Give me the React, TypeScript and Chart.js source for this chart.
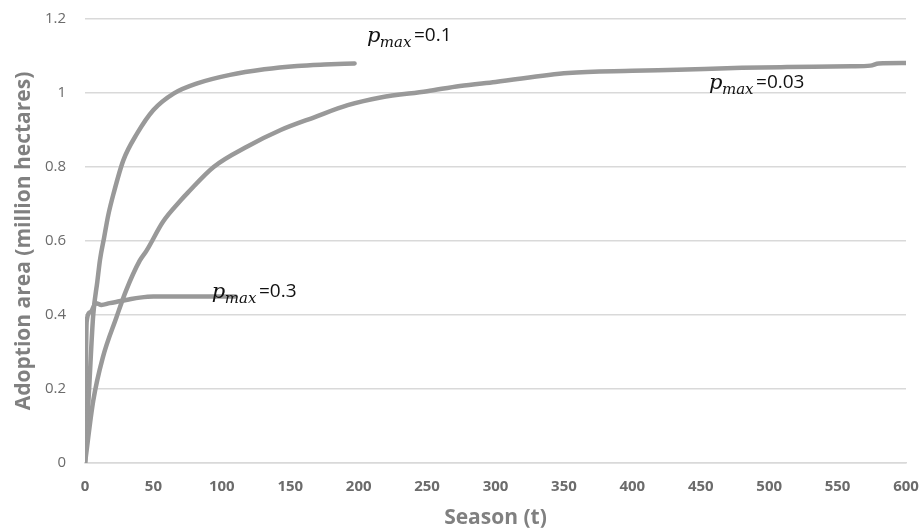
import { useEffect, useRef } from "react";
import { Chart, registerables } from "chart.js";

Chart.register(...registerables);

// p_max = 0.3
const seasonsP03 = [0, 1.2, 4, 8, 12, 18, 25, 32, 40, 50, 70, 90, 110];
const areaP03 = [0, 0.382, 0.408, 0.432, 0.427, 0.432, 0.437, 0.442, 0.447, 0.45, 0.45, 0.45, 0.45];

// p_max = 0.1
const seasonsP01 = [0, 3, 6, 9, 11, 14, 17, 21, 28, 38, 50, 65, 82, 106, 131, 155, 175, 197];
const areaP01 = [0, 0.2, 0.4, 0.49, 0.55, 0.61, 0.67, 0.73, 0.818, 0.89, 0.954, 0.999, 1.026, 1.049, 1.064, 1.073, 1.077, 1.08];

// p_max = 0.03
const seasonsP003 = [0, 6, 13, 23, 30, 40, 45, 57, 70, 75, 94, 119, 143, 168, 192, 216, 250, 274, 300, 353, 400, 433, 480, 513, 560, 574, 580, 600];
const areaP003 = [0, 0.168, 0.285, 0.394, 0.466, 0.547, 0.574, 0.652, 0.71, 0.73, 0.8, 0.856, 0.9, 0.935, 0.967, 0.988, 1.005, 1.019, 1.03, 1.054, 1.06, 1.063, 1.068, 1.07, 1.072, 1.074, 1.08, 1.081];

// curve labels: anchor in data coordinates, subscripted p_max then value text
const labelSeasons = [206, 456, 92.7];
const labelAreas = [1.137, 1.0106, 0.445];
const labelValues = ["=0.1", "=0.03", "=0.3"];

const xTickStep = 50;
const yTickStep = 0.2;

const LINE_COLOR = "#999999";

const toPoints = (xs: number[], ys: number[]) => xs.map((x, i) => ({ x, y: ys[i] }));

const labelPlugin = {
  id: "pmaxLabels",
  afterDatasetsDraw(chart: any) {
    const { ctx, scales } = chart;
    ctx.save();
    ctx.fillStyle = "#111111";
    ctx.textAlign = "left";
    ctx.textBaseline = "alphabetic";
    labelSeasons.forEach((t, i) => {
      const x0 = scales.x.getPixelForValue(t);
      const y0 = scales.y.getPixelForValue(labelAreas[i]);
      ctx.font = "italic 21px 'DejaVu Serif'";
      ctx.fillText("p", x0, y0);
      const wp = ctx.measureText("p").width;
      ctx.font = "italic 15px 'DejaVu Serif'";
      ctx.fillText("max", x0 + wp - 0.5, y0 + 5);
      const wm = ctx.measureText("max").width;
      ctx.font = "19px 'Open Sans'";
      ctx.fillText(labelValues[i], x0 + wp + wm + 2, y0 - 1);
    });
    ctx.restore();
  },
};

export default function App() {
  const ref = useRef<HTMLCanvasElement>(null);

  useEffect(() => {
    const common = {
      showLine: true,
      borderColor: LINE_COLOR,
      backgroundColor: LINE_COLOR,
      borderWidth: 4.5,
      pointRadius: 0,
      pointHoverRadius: 0,
      cubicInterpolationMode: "monotone" as const,
      borderCapStyle: "round" as const,
      borderJoinStyle: "round" as const,
      fill: false,
    };
    const chart = new Chart(ref.current!, {
      type: "scatter",
      data: {
        datasets: [
          { ...common, label: "p_max=0.03", data: toPoints(seasonsP003, areaP003) },
          { ...common, label: "p_max=0.1", data: toPoints(seasonsP01, areaP01) },
          { ...common, label: "p_max=0.3", data: toPoints(seasonsP03, areaP03) },
        ],
      },
      options: {
        animation: false,
        responsive: true,
        maintainAspectRatio: false,
        devicePixelRatio: 1,
        layout: { padding: { top: 19, right: 16, left: 0, bottom: 0 } },
        plugins: {
          legend: { display: false },
          tooltip: { enabled: false },
        },
        scales: {
          x: {
            type: "linear",
            min: 0,
            max: 600,
            afterFit: (s: any) => {
              s.height = 69;
              s.paddingLeft = 0;
              s.paddingRight = 0;
            },
            ticks: {
              stepSize: xTickStep,
              color: "#6b6b6b",
              font: { family: "'Open Sans'", size: 15, weight: "bold" },
              padding: 15,
              maxRotation: 0,
            },
            grid: { display: false, drawTicks: false },
            border: { display: true, color: "#d9d9d9", width: 1.5 },
            title: {
              display: true,
              text: "Season (t)",
              color: "#808080",
              font: { family: "'Open Sans'", size: 21, weight: "bold" },
              padding: { top: 0, bottom: 1 },
            },
          },
          y: {
            type: "linear",
            min: 0,
            max: 1.2,
            afterFit: (s: any) => {
              s.width = 85;
              s.paddingTop = 0;
              s.paddingBottom = 0;
            },
            ticks: {
              stepSize: yTickStep,
              color: "#6b6b6b",
              font: { family: "'Open Sans'", size: 15 },
              padding: 19,
              callback: (v: any) => String(Number(Number(v).toFixed(1))),
            },
            grid: { color: "#d9d9d9", lineWidth: 1.5, drawTicks: false },
            border: { display: false },
            title: {
              display: true,
              text: "Adoption area (million hectares)",
              color: "#808080",
              font: { family: "'Open Sans'", size: 21, weight: "bold" },
              padding: { top: 11, bottom: 0 },
            },
          },
        },
      },
      plugins: [labelPlugin],
    });
    return () => chart.destroy();
  }, []);

  return (
    <div style={{ position: "fixed", left: 0, top: 0, width: 922, height: 532, background: "#ffffff" }}>
      <canvas ref={ref} />
    </div>
  );
}
